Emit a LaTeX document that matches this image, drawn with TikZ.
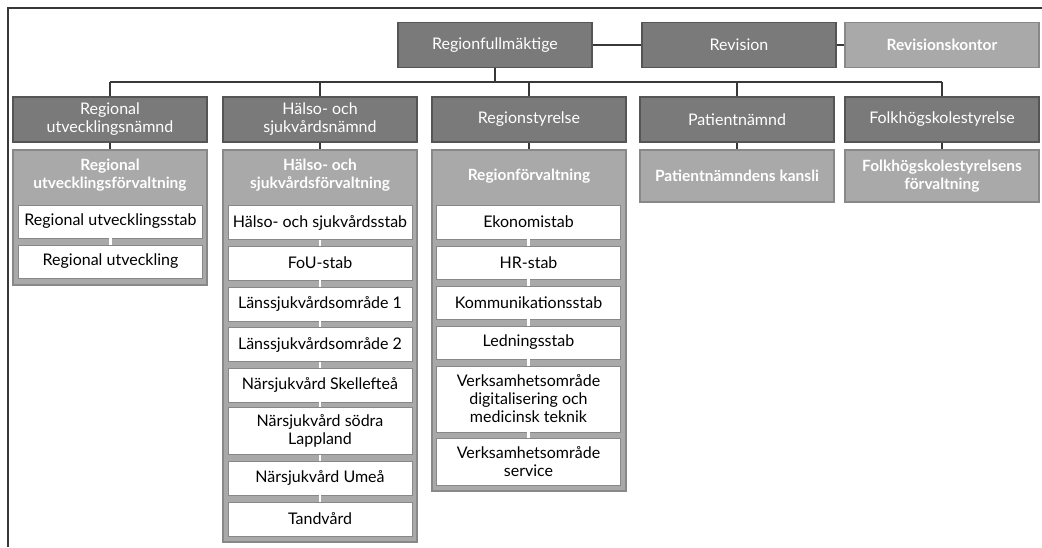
\documentclass[tikz,border=0pt]{standalone}
\usepackage{fontspec}
\setmainfont{Lato}
\definecolor{dk}{HTML}{7A7A7A}
\definecolor{dkb}{HTML}{555555}
\definecolor{lt}{HTML}{A9A9A9}
\definecolor{ltb}{HTML}{888888}
\definecolor{wb}{HTML}{888888}
\definecolor{ln}{HTML}{383838}
\begin{document}
\begin{tikzpicture}[x=1pt,y=-1pt,
  base/.style={rectangle, inner sep=1pt, align=center, font=\fontsize{16}{18}\selectfont},
  dkbox/.style={base, fill=dk, draw=dkb, line width=1.2pt, text=white, minimum width=194pt, minimum height=45pt},
  ltbox/.style={base, fill=lt, draw=ltb, line width=1.2pt, text=white, minimum width=194pt, font=\fontsize{15.5}{18}\selectfont\bfseries},
  contbox/.style={rectangle, fill=lt, draw=ltb, line width=1.2pt, minimum width=194pt, inner sep=0pt},
  hdr/.style={base, text=white, font=\fontsize{15.5}{18}\selectfont\bfseries},
  wbox/.style={base, fill=white, draw=wb, line width=0.9pt, text=black, minimum width=184pt},
  conn/.style={draw=ln, line width=1.5pt},
  wlink/.style={draw=white, line width=2.2pt}]
\useasboundingbox (0,0) rectangle (1042,547);
% frame (cropped)
\coordinate (fbl) at (8,547);
\coordinate (ftl) at (8,8);
\coordinate (ftr) at (1042,8);
\draw[draw=ln, line width=1.2pt] (fbl) -- (ftl) -- (ftr);

% top row
\node[dkbox] (rf) at (495,45) {Regionfullmäktige};
\node[dkbox] (rev) at (739,45) {Revision};
\node[ltbox, minimum height=45pt] (rk) at (942,45) {Revisionskontor};

% row 2
\node[dkbox] (n1) at (110,119.5) {Regional\\utvecklingsnämnd};
\node[dkbox] (n2) at (320,119.5) {Hälso- och\\sjukvårdsnämnd};
\node[dkbox] (n3) at (529,119.5) {Regionstyrelse};
\node[dkbox] (n4) at (737,119.5) {Patientnämnd};
\node[dkbox] (n5) at (942,119.5) {Folkhögskolestyrelse};

% row 3 containers
\node[contbox, minimum height=135pt] (c1) at (110,217.5) {};
\node[contbox, minimum height=392pt] (c2) at (320,346) {};
\node[contbox, minimum height=341pt] (c3) at (529,320.5) {};
\node[hdr] (h1) at (110,175) {Regional\\utvecklingsförvaltning};
\node[hdr] (h2) at (320,175) {Hälso- och\\sjukvårdsförvaltning};
\node[hdr] (h3) at (529,176) {Regionförvaltning};
\node[ltbox, minimum height=52pt] (c4) at (737,176) {Patientnämndens kansli};
\node[ltbox, minimum height=52pt] (c5) at (942,176) {Folkhögskolestyrelsens\\förvaltning};

% column 1 units
\node[wbox, minimum height=33pt] (a1) at (110.5,221.5) {Regional utvecklingsstab};
\node[wbox, minimum height=33pt] (a2) at (110.5,261.5) {Regional utveckling};

% column 2 units
\node[wbox, minimum height=34pt] (b1) at (320,222.5) {Hälso- och sjukvårdsstab};
\node[wbox, minimum height=34pt] (b2) at (320,263) {FoU-stab};
\node[wbox, minimum height=34pt] (b3) at (320,304) {Länssjukvårdsområde 1};
\node[wbox, minimum height=34pt] (b4) at (320,344.5) {Länssjukvårdsområde 2};
\node[wbox, minimum height=34pt] (b5) at (320,385) {Närsjukvård Skellefteå};
\node[wbox, minimum height=47pt] (b6) at (320,431) {Närsjukvård södra\\Lappland};
\node[wbox, minimum height=34pt] (b7) at (320,478) {Närsjukvård Umeå};
\node[wbox, minimum height=34pt] (b8) at (320,519) {Tandvård};

% column 3 units
\node[wbox, minimum height=34pt] (d1) at (528.5,222) {Ekonomistab};
\node[wbox, minimum height=33pt] (d2) at (528.5,262.5) {HR-stab};
\node[wbox, minimum height=33pt] (d3) at (528.5,302.5) {Kommunikationsstab};
\node[wbox, minimum height=33pt] (d4) at (528.5,342.5) {Ledningsstab};
\node[wbox, minimum height=66pt] (d5) at (528.5,399) {Verksamhetsområde\\digitalisering och\\medicinsk teknik};
\node[wbox, minimum height=47pt] (d6) at (528.5,461.5) {Verksamhetsområde\\service};

% white links between units
\draw[wlink] (a1.south) -- (a2.north);
\foreach \p/\q in {b1/b2,b2/b3,b3/b4,b4/b5,b5/b6,b6/b7,b7/b8,d1/d2,d2/d3,d3/d4,d4/d5,d5/d6}
  \draw[wlink] (\p.south) -- (\q.north);

% connectors
\coordinate (busL) at (110,82);
\coordinate (busR) at (942,82);
\coordinate (busM) at (495,82);
\draw[conn] (rf.east) -- (rev.west);
\draw[conn] (rev.east) -- (rk.west);
\draw[conn] (rf.south) -- (busM);
\draw[conn] (busL) -- (busR);
\foreach \n in {n1,n2,n3,n4,n5}
  \draw[conn] (\n.north |- busL) -- (\n.north);
\draw[conn] (n1.south) -- (c1.north);
\draw[conn] (n2.south) -- (c2.north);
\draw[conn] (n3.south) -- (c3.north);
\draw[conn] (n4.south) -- (c4.north);
\draw[conn] (n5.south) -- (c5.north);
\end{tikzpicture}
\end{document}
